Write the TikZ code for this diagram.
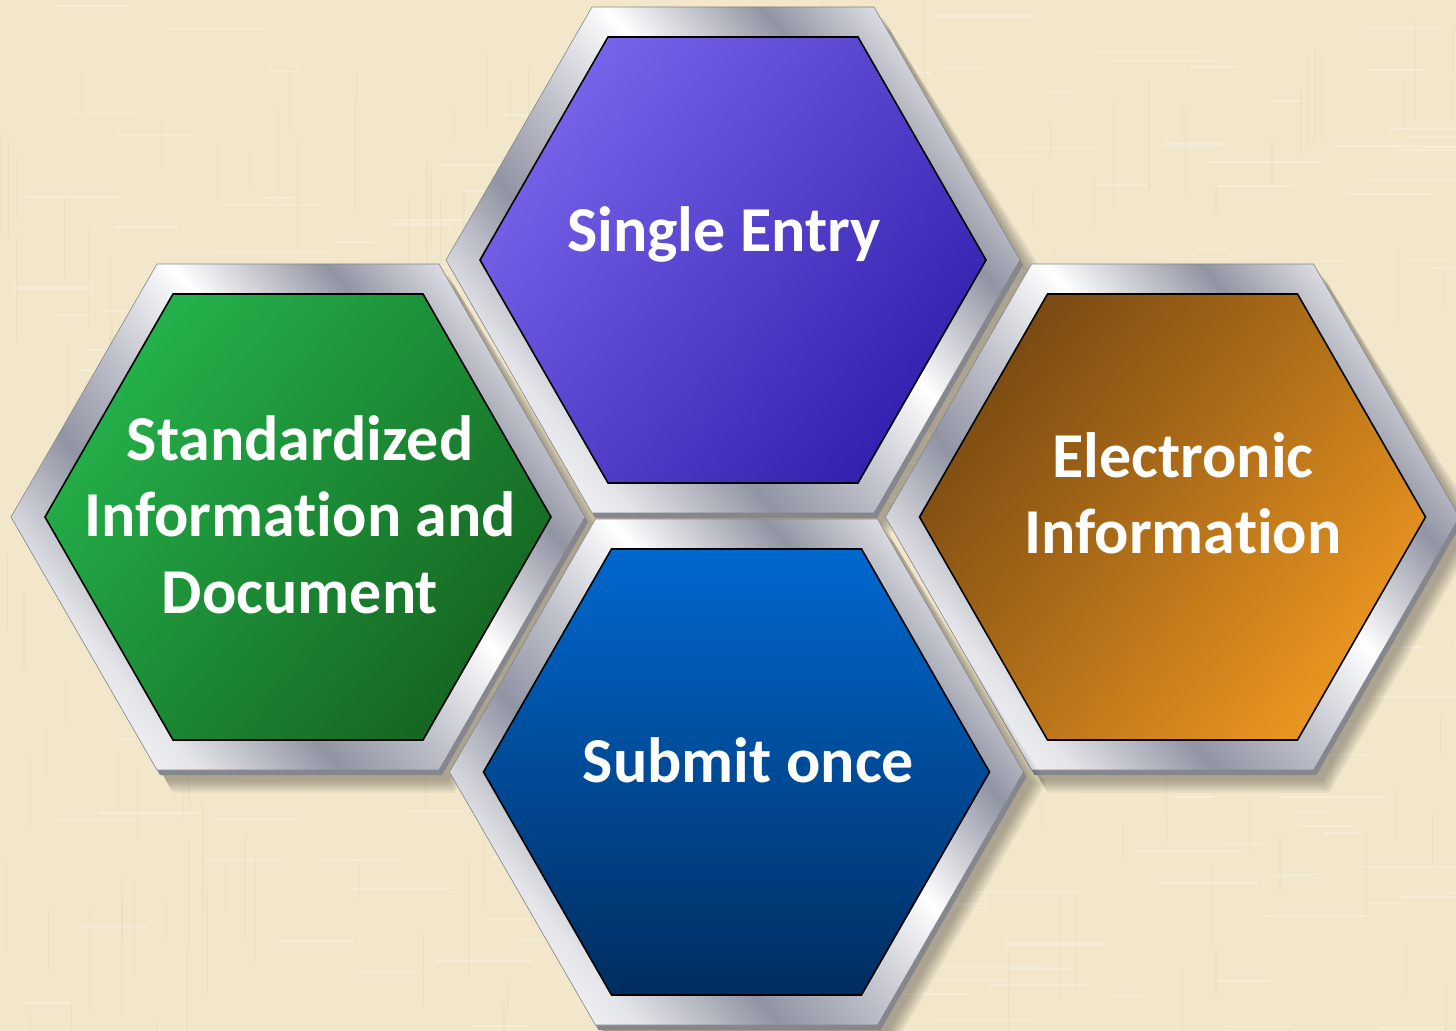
\documentclass[tikz,border=0pt]{standalone}
\usepackage{fontspec}
\setmainfont{Carlito}[Ligatures=NoCommon]
\usetikzlibrary{calc}

\definecolor{bgbeige}{HTML}{F2E7CB}
\definecolor{bgdark}{HTML}{E3D3AC}
\definecolor{slvD}{HTML}{9194A3}
\definecolor{slvM}{HTML}{BCBEC8}
\definecolor{slvL}{HTML}{E4E5E9}
\definecolor{bevelgray}{HTML}{85878C}
\definecolor{purpA}{HTML}{7664EA}
\definecolor{purpB}{HTML}{3320AE}
\definecolor{grnA}{HTML}{24B24B}
\definecolor{grnB}{HTML}{156621}
\definecolor{orgA}{HTML}{7A4A12}
\definecolor{orgB}{HTML}{EB9620}
\definecolor{bluA}{HTML}{0068CF}
\definecolor{bluB}{HTML}{002D60}

\pgfdeclarehorizontalshading{silverframe}{100bp}{%
  color(0bp)=(slvD); color(14bp)=(slvM); color(24bp)=(slvL);
  color(33bp)=(slvD); color(44bp)=(white); color(54bp)=(slvM);
  color(62bp)=(slvD); color(72bp)=(slvL); color(80bp)=(white);
  color(90bp)=(slvM); color(100bp)=(slvD)}

\newcommand\hexp[3]{(-#1,0) -- (-#3,-#2) -- (#3,-#2) -- (#1,0) -- (#3,#2) -- (-#3,#2) -- cycle}

\tikzset{
  lbl/.style={text=white, font=\fontsize{32}{38.25}\selectfont\bfseries, align=center, inner sep=0pt},
  framefill/.style={shading=silverframe, shading angle=-140},
  innerhex/.style={draw=black, line width=0.8pt},
  diagshade/.style 2 args={left color=#1, right color=#2, shading angle=50},
}

\newcommand\hexcell[3]{%
  \begin{scope}[shift={(#1,#2)}]
    \foreach \k in {0,...,7}{
      \fill[black, opacity=0.04] [shift={(9,11)}] \hexp{287+2*\k}{253+1.7*\k}{141+\k};
    }
    \fill[bevelgray] [shift={(3,5)}] \hexp{287}{253}{141};
    \shade[framefill] \hexp{287}{253}{141};
    \draw[slvM!70!black, line width=0.3pt] \hexp{287}{253}{141};
    \shade[innerhex, #3] \hexp{253}{223}{125};
  \end{scope}}

\begin{document}
\begin{tikzpicture}[x=0.5pt, y=-0.5pt]
  \fill[bgbeige] (0,0) rectangle (1456,1031);
  \useasboundingbox (0,0) rectangle (1456,1031);
  \clip (0,0) rectangle (1456,1031);

  % linen texture
  \pgfmathsetseed{7}
  \foreach \i in {1,...,260}{
    \pgfmathsetmacro\xx{1456*rnd}
    \pgfmathsetmacro\yy{1031*rnd}
    \pgfmathsetmacro\ll{30+90*rnd}
    \draw[bgdark, opacity=0.22, line width=0.8pt] (\xx,\yy) -- ++(0,\ll);
    \pgfmathsetmacro\xb{1456*rnd}
    \pgfmathsetmacro\yb{1031*rnd}
    \draw[white, opacity=0.25, line width=0.8pt] (\xb,\yb) -- ++(\ll,0);
  }

  \hexcell{298}{517}{diagshade={grnA}{grnB}}
  \hexcell{733}{260}{diagshade={purpA}{purpB}}
  \hexcell{1172.5}{517}{diagshade={orgA}{orgB}}
  \hexcell{736.5}{772}{top color=bluA, bottom color=bluB}

  \node[lbl, anchor=base] (single) at (724,252) {Single Entry};
  \node[lbl, anchor=base] (standard) at (300,613) {Standardized\\Information and\\Document};
  \node[lbl, anchor=base] (electronic) at (1183,554) {Electronic\\Information};
  \node[lbl, anchor=base] (submit) at (748.5,782) {Submit once};
\end{tikzpicture}
\end{document}
